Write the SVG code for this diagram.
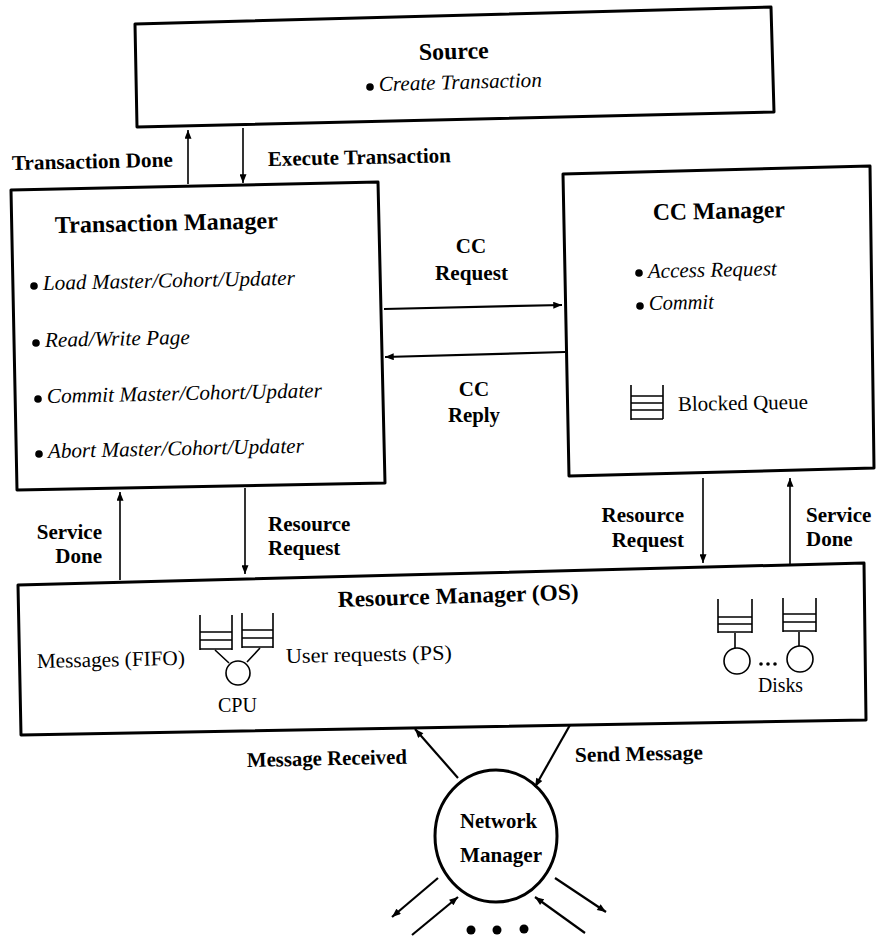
<svg xmlns="http://www.w3.org/2000/svg" width="876" height="939" viewBox="0 0 876 939">
<style>
.box{fill:#fff;stroke:#000;stroke-width:3;stroke-linejoin:round}
.ln{stroke:#000;stroke-width:1.6;fill:none}
.ln2{stroke:#000;stroke-width:2.2;fill:none}
.ic{stroke:#000;stroke-width:1.6;fill:none}
.t{font-family:"Liberation Serif","Times New Roman",serif;fill:#000}
.b{font-weight:bold;font-size:21px}
.h{font-weight:bold;font-size:24px}
.i{font-style:italic;font-size:21px}
.r{font-size:21px}
</style>
<defs>
<marker id="ah" viewBox="0 0 10 8" refX="10" refY="4" markerWidth="10" markerHeight="7" markerUnits="userSpaceOnUse" orient="auto"><path d="M0,0 L10,4 L0,8 z" fill="#000"/></marker>
</defs>
<rect width="876" height="939" fill="#fff"/>

<g id="source">
<polygon class="box" points="135,24 771,7 774,112 137,127"/>
<text class="t h" x="419" y="60" textLength="70" lengthAdjust="spacingAndGlyphs" transform="rotate(-1.5 419 60)">Source</text>
<circle cx="370" cy="87" r="3.8"/>
<text class="t i" x="379" y="91" textLength="163" lengthAdjust="spacingAndGlyphs" transform="rotate(-1.5 379 91)">Create Transaction</text>
</g>

<g id="transaction-manager">
<polygon class="box" points="11,190 378,182 385,483 17,490"/>
<text class="t h" x="55" y="233" textLength="223" lengthAdjust="spacingAndGlyphs" transform="rotate(-1.2 55 233)">Transaction Manager</text>
<circle cx="34" cy="286" r="3.8"/>
<text class="t i" x="43" y="290" textLength="252" lengthAdjust="spacingAndGlyphs" transform="rotate(-1.2 43 290)">Load Master/Cohort/Updater</text>
<circle cx="36" cy="343" r="3.8"/>
<text class="t i" x="45" y="347" textLength="145" lengthAdjust="spacingAndGlyphs" transform="rotate(-1.2 45 347)">Read/Write Page</text>
<circle cx="38" cy="399" r="3.8"/>
<text class="t i" x="47" y="403" textLength="275" lengthAdjust="spacingAndGlyphs" transform="rotate(-1.2 47 403)">Commit Master/Cohort/Updater</text>
<circle cx="39" cy="454" r="3.8"/>
<text class="t i" x="48" y="458" textLength="256" lengthAdjust="spacingAndGlyphs" transform="rotate(-1.2 48 458)">Abort Master/Cohort/Updater</text>
</g>

<g id="cc-manager">
<polygon class="box" points="563,174 870,166 874,468 569,476"/>
<text class="t h" x="653" y="220" textLength="132" lengthAdjust="spacingAndGlyphs" transform="rotate(-1.2 653 220)">CC Manager</text>
<circle cx="639" cy="273" r="3.8"/>
<text class="t i" x="648" y="278" textLength="129" lengthAdjust="spacingAndGlyphs" transform="rotate(-1.2 648 278)">Access Request</text>
<circle cx="640" cy="306" r="3.8"/>
<text class="t i" x="649" y="310" textLength="65" lengthAdjust="spacingAndGlyphs" transform="rotate(-1.2 649 310)">Commit</text>
<path class="ic" d="M631,385 V420 M663,385 V419 M631,396 H663 M631,403 H663 M631,410 H663 M631,419 H663"/>
<text class="t r" x="678" y="411" textLength="130" lengthAdjust="spacingAndGlyphs" transform="rotate(-1 678 411)">Blocked Queue</text>
</g>

<g id="resource-manager">
<polygon class="box" points="18,585 864,563 866,720 21,735"/>
<text class="t h" x="338" y="607" style="font-size:23px" textLength="241" lengthAdjust="spacingAndGlyphs" transform="rotate(-1.8 338 607)">Resource Manager (OS)</text>
<text class="t r" x="37" y="668" textLength="148" lengthAdjust="spacingAndGlyphs" transform="rotate(-1.2 37 668)">Messages (FIFO)</text>
<text class="t r" x="286" y="663" textLength="166" lengthAdjust="spacingAndGlyphs" transform="rotate(-1.2 286 663)">User requests (PS)</text>
<text class="t r" x="218" y="712" textLength="39" lengthAdjust="spacingAndGlyphs">CPU</text>
<g id="cpu">
<path class="ic" d="M200,615 V650 M232,615 V650 M200,632 H232 M200,640 H232 M200,649 H232"/>
<path class="ic" d="M242,613 V648 M273,613 V648 M242,630 H273 M242,638 H273 M242,647 H273"/>
<path class="ic" d="M215,650 L229,663 M260,648 L247,662"/>
<circle class="ic" cx="238" cy="673" r="12"/>
</g>
<g id="disks">
<path class="ic" d="M718,599 V633 M752,599 V633 M718,617 H752 M718,624 H752 M718,632 H752 M735,633 V648"/>
<circle class="ic" cx="737" cy="661" r="13"/>
<path class="ic" d="M783,598 V632 M816,598 V632 M783,614 H816 M783,622 H816 M783,631 H816 M799,632 V646"/>
<circle class="ic" cx="800" cy="659" r="13"/>
<circle cx="761" cy="664" r="1.8"/><circle cx="768" cy="664" r="1.8"/><circle cx="775" cy="664" r="1.8"/>
</g>
<text class="t r" x="758" y="692" textLength="45" lengthAdjust="spacingAndGlyphs">Disks</text>
</g>

<g id="network-manager">
<ellipse class="box" cx="496" cy="836" rx="61" ry="66"/>
<text class="t b" x="460" y="828" textLength="77" lengthAdjust="spacingAndGlyphs">Network</text>
<text class="t b" x="460" y="862" textLength="82" lengthAdjust="spacingAndGlyphs">Manager</text>
</g>

<g id="connectors">
<line class="ln" x1="188" y1="184" x2="188" y2="130" marker-end="url(#ah)"/>
<line class="ln" x1="243" y1="128" x2="243" y2="183" marker-end="url(#ah)"/>
<line class="ln2" x1="384" y1="309" x2="562" y2="305" marker-end="url(#ah)"/>
<line class="ln2" x1="565" y1="352" x2="385" y2="357" marker-end="url(#ah)"/>
<line class="ln" x1="120" y1="580" x2="120" y2="492" marker-end="url(#ah)"/>
<line class="ln" x1="245" y1="488" x2="245" y2="574" marker-end="url(#ah)"/>
<line class="ln" x1="703" y1="478" x2="703" y2="563" marker-end="url(#ah)"/>
<line class="ln" x1="790" y1="564" x2="790" y2="478" marker-end="url(#ah)"/>
<line class="ln2" x1="458" y1="778" x2="415" y2="729" marker-end="url(#ah)"/>
<line class="ln2" x1="570" y1="725" x2="535" y2="787" marker-end="url(#ah)"/>
<line class="ln2" x1="438" y1="878" x2="392" y2="917" marker-end="url(#ah)"/>
<line class="ln2" x1="412" y1="935" x2="458" y2="897" marker-end="url(#ah)"/>
<line class="ln2" x1="585" y1="933" x2="535" y2="897" marker-end="url(#ah)"/>
<line class="ln2" x1="555" y1="878" x2="606" y2="912" marker-end="url(#ah)"/>
<circle cx="471" cy="930" r="4.5"/><circle cx="497" cy="930" r="4.5"/><circle cx="524" cy="929" r="4.5"/>
<text class="t b" x="12" y="170" textLength="161" lengthAdjust="spacingAndGlyphs" transform="rotate(-1.2 12 170)">Transaction Done</text>
<text class="t b" x="268" y="166" textLength="183" lengthAdjust="spacingAndGlyphs" transform="rotate(-1.2 268 166)">Execute Transaction</text>
<text class="t b" x="471" y="253" text-anchor="middle">CC</text>
<text class="t b" x="435" y="280" textLength="73" lengthAdjust="spacingAndGlyphs">Request</text>
<text class="t b" x="474" y="396" text-anchor="middle">CC</text>
<text class="t b" x="448" y="422" textLength="52" lengthAdjust="spacingAndGlyphs">Reply</text>
<text class="t b" x="102" y="539" text-anchor="end">Service</text>
<text class="t b" x="102" y="563" text-anchor="end">Done</text>
<text class="t b" x="268" y="531">Resource</text>
<text class="t b" x="268" y="555">Request</text>
<text class="t b" x="684" y="522" text-anchor="end">Resource</text>
<text class="t b" x="684" y="547" text-anchor="end">Request</text>
<text class="t b" x="806" y="522">Service</text>
<text class="t b" x="806" y="546">Done</text>
<text class="t b" x="247" y="767" textLength="160" lengthAdjust="spacingAndGlyphs" transform="rotate(-1.2 247 767)">Message Received</text>
<text class="t b" x="575" y="762" textLength="128" lengthAdjust="spacingAndGlyphs" transform="rotate(-1.2 575 762)">Send Message</text>
</g>
</svg>
